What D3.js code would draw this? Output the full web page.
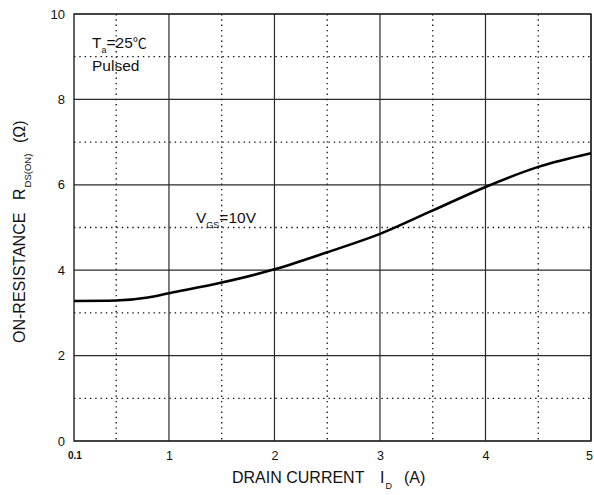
<!DOCTYPE html>
<html>
<head>
<meta charset="utf-8">
<script src="https://cdn.jsdelivr.net/npm/d3@7"></script>
<style>
  body { margin: 0; background: #fff; }
  svg { font-family: "Liberation Sans", Arial, sans-serif; }
</style>
</head>
<body>
<svg id="chart" width="594" height="495"></svg>
<script>
// curve (drain current A, on-resistance ohm)
const current = [0.1, 0.5, 0.8, 1, 1.5, 2, 2.5, 3, 3.5, 4, 4.5, 5]
const resistance = [3.28, 3.29, 3.36, 3.46, 3.71, 4.02, 4.42, 4.85, 5.4, 5.95, 6.42, 6.74]
const xTicks = [1, 2, 3, 4, 5]
const xMinor = [0.5, 1.5, 2.5, 3.5, 4.5]
const yTicks = [0, 2, 4, 6, 8, 10]
const yMinor = [1, 3, 5, 7, 9]

const svg = d3.select('#chart')
const x = d3.scaleLinear().domain([0.1, 5]).range([74, 591])
const y = d3.scaleLinear().domain([0, 10]).range([441, 14])

const g = svg.append('g')

// dotted minor grid
g.selectAll('.vminor').data(xMinor).enter().append('line')
    .attr('x1', d => x(d)).attr('x2', d => x(d))
    .attr('y1', y(10)).attr('y2', y(0))
    .attr('stroke', '#111').attr('stroke-width', 1.3)
    .attr('stroke-dasharray', '1.4,3.9')
g.selectAll('.hminor').data(yMinor).enter().append('line')
    .attr('y1', d => y(d)).attr('y2', d => y(d))
    .attr('x1', x(0.1)).attr('x2', x(5))
    .attr('stroke', '#111').attr('stroke-width', 1.3)
    .attr('stroke-dasharray', '1.4,3.9')

// solid major grid
g.selectAll('.vmajor').data(xTicks).enter().append('line')
    .attr('x1', d => x(d)).attr('x2', d => x(d))
    .attr('y1', y(10)).attr('y2', y(0))
    .attr('stroke', '#2a2a2a').attr('stroke-width', 1.2)
g.selectAll('.hmajor').data(yTicks).enter().append('line')
    .attr('y1', d => y(d)).attr('y2', d => y(d))
    .attr('x1', x(0.1)).attr('x2', x(5))
    .attr('stroke', '#2a2a2a').attr('stroke-width', 1.2)

// frame
g.append('rect')
    .attr('x', x(0.1)).attr('y', y(10))
    .attr('width', x(5) - x(0.1)).attr('height', y(0) - y(10))
    .attr('fill', 'none').attr('stroke', '#222').attr('stroke-width', 1.4)

// tick labels
const yAxis = svg.append('g')
    .attr('transform', `translate(${x(0.1)},0)`)
    .call(d3.axisLeft(y).tickValues(yTicks).tickSize(0).tickPadding(9).tickFormat(d3.format('d')))
yAxis.select('.domain').remove()
yAxis.selectAll('text').attr('font-size', 13).attr('fill', '#111')
    .attr('font-family', '"Liberation Sans", Arial, sans-serif')

const xAxis = svg.append('g')
    .attr('transform', `translate(0,${y(0)})`)
    .call(d3.axisBottom(x).tickValues(xTicks).tickSize(0).tickPadding(10).tickFormat(d3.format('d')))
xAxis.select('.domain').remove()
xAxis.selectAll('text').attr('font-size', 12.5).attr('fill', '#111')
    .attr('font-family', '"Liberation Sans", Arial, sans-serif')
xAxis.selectAll('.tick').filter(d => d === 5).select('text').attr('x', -2)

svg.append('text')
    .attr('x', x(0.1) - 6).attr('y', y(0) + 18)
    .attr('font-size', 10).attr('font-weight', 'bold').attr('fill', '#111')
    .text('0.1')

// curve
const line = d3.line()
    .x(d => x(d[0]))
    .y(d => y(d[1]))
    .curve(d3.curveMonotoneX)
svg.append('path')
    .datum(d3.zip(current, resistance))
    .attr('d', line)
    .attr('fill', 'none')
    .attr('stroke', '#000')
    .attr('stroke-width', 2.6)

// annotations
const ta = svg.append('text').attr('x', 92).attr('y', 48).attr('font-size', 15.5).attr('fill', '#111')
ta.append('tspan').text('T')
ta.append('tspan').attr('font-size', 9).attr('dy', 5).text('a')
ta.append('tspan').attr('dy', -5).text('=25')
ta.append('tspan').attr('font-family', '"Noto Sans CJK SC"').attr('font-size', 14).text('℃')
svg.append('text').attr('x', 92).attr('y', 71).attr('font-size', 15.5).attr('fill', '#111').text('Pulsed')

const vg = svg.append('text').attr('x', 196).attr('y', 223).attr('font-size', 15.5).attr('fill', '#111')
vg.append('tspan').text('V')
vg.append('tspan').attr('font-size', 9).attr('dy', 5).text('GS')
vg.append('tspan').attr('dy', -5).text('=10V')

// axis titles
svg.append('text').attr('x', 232).attr('y', 483).attr('font-size', 16).attr('fill', '#111')
    .text('DRAIN CURRENT')
const xi = svg.append('text').attr('x', 380).attr('y', 483).attr('font-size', 16).attr('fill', '#111')
xi.append('tspan').text('I')
xi.append('tspan').attr('font-size', 9).attr('dy', 6).attr('dx', 1).text('D')
svg.append('text').attr('x', 404).attr('y', 483).attr('font-size', 16).attr('fill', '#111')
    .text('(A)')

const yTitle = svg.append('g').attr('transform', 'translate(25,0) rotate(-90)')
yTitle.append('text').attr('x', -343).attr('y', 0).attr('font-size', 16).attr('fill', '#111')
    .text('ON-RESISTANCE')
const yr = yTitle.append('text').attr('x', -200).attr('y', 0).attr('font-size', 16).attr('fill', '#111')
yr.append('tspan').text('R')
yr.append('tspan').attr('font-size', 9.5).attr('dy', 6).attr('dx', 1).text('DS(ON)')
yTitle.append('text').attr('x', -143).attr('y', 0).attr('font-size', 16).attr('fill', '#111')
    .text('(Ω)')
</script>
</body>
</html>
